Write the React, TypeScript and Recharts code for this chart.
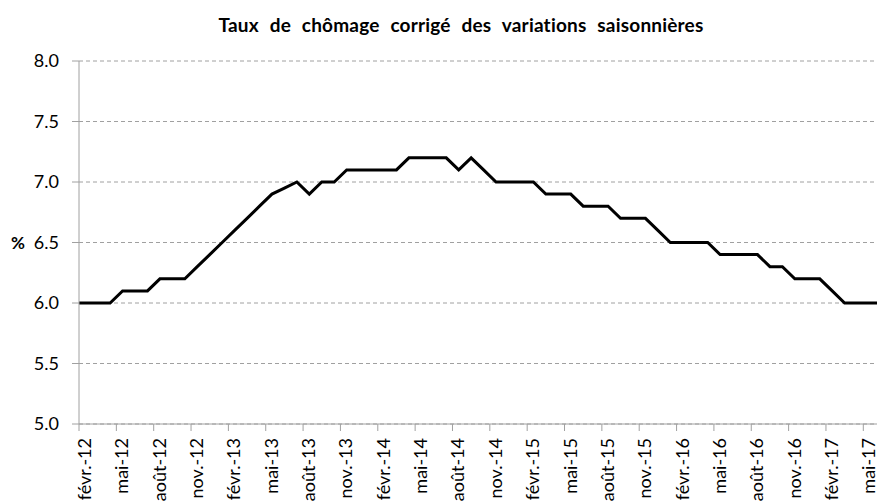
import React from 'react';
import { LineChart, Line, XAxis, YAxis, CartesianGrid } from 'recharts';

// monthly series, janv.-12 .. juin-17 (first and last are only partly visible)
const months = [
  'janv.-12', 'févr.-12', 'mars-12', 'avr.-12', 'mai-12', 'juin-12', 'juil.-12', 'août-12', 'sept.-12', 'oct.-12', 'nov.-12', 'déc.-12',
  'janv.-13', 'févr.-13', 'mars-13', 'avr.-13', 'mai-13', 'juin-13', 'juil.-13', 'août-13', 'sept.-13', 'oct.-13', 'nov.-13', 'déc.-13',
  'janv.-14', 'févr.-14', 'mars-14', 'avr.-14', 'mai-14', 'juin-14', 'juil.-14', 'août-14', 'sept.-14', 'oct.-14', 'nov.-14', 'déc.-14',
  'janv.-15', 'févr.-15', 'mars-15', 'avr.-15', 'mai-15', 'juin-15', 'juil.-15', 'août-15', 'sept.-15', 'oct.-15', 'nov.-15', 'déc.-15',
  'janv.-16', 'févr.-16', 'mars-16', 'avr.-16', 'mai-16', 'juin-16', 'juil.-16', 'août-16', 'sept.-16', 'oct.-16', 'nov.-16', 'déc.-16',
  'janv.-17', 'févr.-17', 'mars-17', 'avr.-17', 'mai-17', 'juin-17',
];

const rates = [
  6.0, 6.0, 6.0, 6.0, 6.1, 6.1, 6.1, 6.2, 6.2, 6.2, 6.3, 6.4,
  6.5, 6.6, 6.7, 6.8, 6.9, 6.95, 7.0, 6.9, 7.0, 7.0, 7.1, 7.1,
  7.1, 7.1, 7.1, 7.2, 7.2, 7.2, 7.2, 7.1, 7.2, 7.1, 7.0, 7.0,
  7.0, 7.0, 6.9, 6.9, 6.9, 6.8, 6.8, 6.8, 6.7, 6.7, 6.7, 6.6,
  6.5, 6.5, 6.5, 6.5, 6.4, 6.4, 6.4, 6.4, 6.3, 6.3, 6.2, 6.2,
  6.2, 6.1, 6.0, 6.0, 6.0, 6.0,
];

// one label every 3 months, starting at févr.-12
const tickLabels = [
  'févr.-12', 'mai-12', 'août-12', 'nov.-12',
  'févr.-13', 'mai-13', 'août-13', 'nov.-13',
  'févr.-14', 'mai-14', 'août-14', 'nov.-14',
  'févr.-15', 'mai-15', 'août-15', 'nov.-15',
  'févr.-16', 'mai-16', 'août-16', 'nov.-16',
  'févr.-17', 'mai-17',
];

const yTicks = [5.0, 5.5, 6.0, 6.5, 7.0, 7.5, 8.0];

// x is months since the start of févr.-12; each value sits mid-month
const data = months.map((m, i) => ({ month: m, x: i - 0.5, rate: rates[i] }));
const xTicks = tickLabels.map((_, i) => i * 3);

const FONT = 'Lato, "Open Sans", sans-serif';

// vertical label, read bottom to top, its end just under the tick
const renderXTick = (props: any) => {
  const { x, y, payload } = props;
  const label = tickLabels[Math.round(payload.value / 3)];
  return (
    <g transform={`translate(${x + 12},${y}) rotate(-90)`}>
      <text x={0} y={0} textAnchor="end" fill="#000" fontSize={18} fontFamily={FONT}>
        {label}
      </text>
    </g>
  );
};

const App: React.FC = () => {
  return (
    <div style={{ position: 'absolute', left: 0, top: 0, width: 877, height: 503, overflow: 'hidden', background: '#fff' }}>
      <div
        style={{
          position: 'absolute',
          left: 0,
          top: 13,
          width: 922,
          textAlign: 'center',
          fontFamily: FONT,
          fontWeight: 700,
          fontSize: 19,
          color: '#000',
          wordSpacing: 6,
          letterSpacing: 0.2,
          whiteSpace: 'nowrap',
        }}
      >
        Taux de chômage corrigé des variations saisonnières
      </div>
      <LineChart
        width={877}
        height={503}
        data={data}
        margin={{ top: 61, right: 0, bottom: 0, left: 0 }}
      >
        <CartesianGrid horizontal vertical={false} stroke="#a0a0a0" strokeDasharray="4 3" />
        <XAxis
          dataKey="x"
          type="number"
          domain={[0, 64.1]}
          allowDataOverflow
          ticks={xTicks}
          interval={0}
          height={79}
          stroke="#a0a0a0"
          tickSize={7}
          tickMargin={7}
          tick={renderXTick}
        />
        <YAxis
          domain={[5, 8]}
          ticks={yTicks}
          width={79}
          stroke="#a0a0a0"
          tickSize={7}
          tickMargin={13}
          tickFormatter={(v: number) => v.toFixed(1)}
          tick={{ fill: '#000', fontSize: 18, fontFamily: FONT }}
          label={{ value: '%', position: 'insideLeft', offset: 11, fill: '#000', fontSize: 17, fontWeight: 700, fontFamily: FONT }}
        />
        <Line
          type="linear"
          dataKey="rate"
          stroke="#000"
          strokeWidth={3}
          dot={false}
          isAnimationActive={false}
        />
      </LineChart>
    </div>
  );
};

export default App;
